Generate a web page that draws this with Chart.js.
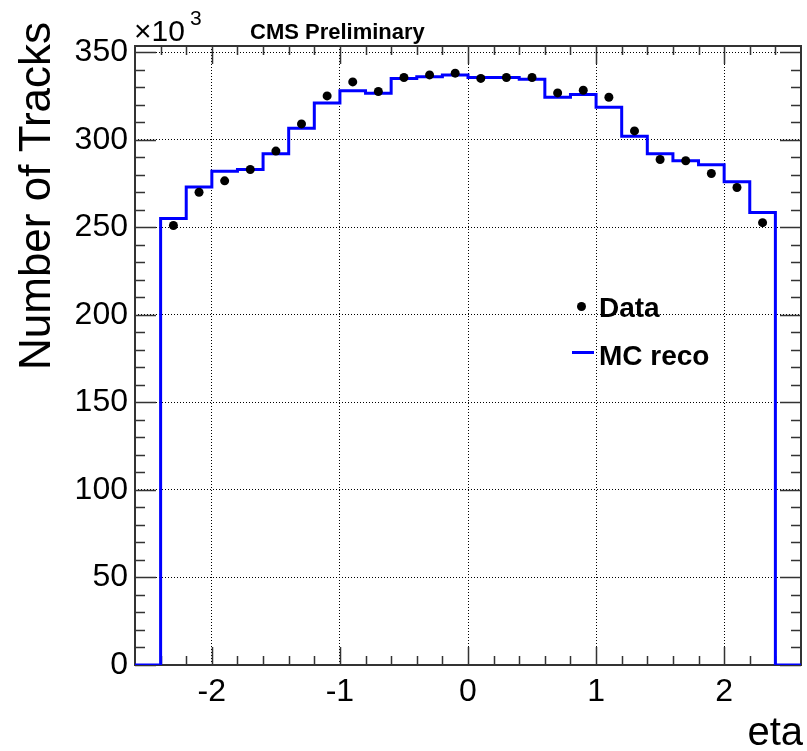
<!DOCTYPE html>
<html>
<head>
<meta charset="utf-8">
<script src="https://cdn.jsdelivr.net/npm/chart.js@4.4.0/dist/chart.umd.min.js"></script>
<style>
  html, body { margin: 0; padding: 0; background: #fff; }
  canvas { display: block; }
</style>
</head>
<body>
<canvas id="etaChart" width="807" height="751"></canvas>
<script>
// bin edges in eta (26 bins of 0.2)
const binEdges = [-2.6, -2.4, -2.2, -2.0, -1.8, -1.6, -1.4, -1.2, -1.0, -0.8, -0.6, -0.4, -0.2, 0.0,
                  0.2, 0.4, 0.6, 0.8, 1.0, 1.2, 1.4, 1.6, 1.8, 2.0, 2.2, 2.4, 2.6];
// MC reco content per bin (x10^3)
const mcReco = [0, 255, 273, 282, 283, 292, 306.5, 321, 328, 326.5, 335, 336, 337,
                335.5, 335.5, 334.5, 324.2, 325.8, 318.5, 302, 292, 288, 285.7, 276, 258.4, 0];
// data points at bin centres
const dataEta = [-2.3, -2.1, -1.9, -1.7, -1.5, -1.3, -1.1, -0.9, -0.7, -0.5, -0.3, -0.1,
                 0.1, 0.3, 0.5, 0.7, 0.9, 1.1, 1.3, 1.5, 1.7, 1.9, 2.1, 2.3];
const dataTracks = [251, 270, 276.5, 283, 293.5, 309, 325, 333, 327.5, 335.5, 337, 338,
                    335, 335.5, 335.5, 326.7, 328.2, 324.2, 305, 288.7, 288, 280.7, 272.7, 252.6];
// axis ticks
const xTickValues = [-2, -1, 0, 1, 2];
const yTickValues = [0, 50, 100, 150, 200, 250, 300, 350];

const FONT = "'Liberation Sans', Arial, Helvetica, sans-serif";

const mcPoints = binEdges.map((e, i) => ({ x: e, y: i < mcReco.length ? mcReco[i] : mcReco[mcReco.length - 1] }));
const dataPoints = dataEta.map((e, i) => ({ x: e, y: dataTracks[i] }));

// frame with ROOT-like inner ticks
const framePlugin = {
    id: 'frame',
    beforeDatasetsDraw(chart) {
        const { ctx, chartArea: a, scales: { x, y } } = chart;
        ctx.save();
        ctx.strokeStyle = '#333';
        ctx.lineWidth = 1.5;
        ctx.beginPath();
        // x ticks every 0.2, major at integers
        for (let k = -13; k <= 13; k++) {
            const v = k / 5;
            const px = Math.round(x.getPixelForValue(v)) + 0.5;
            if (px <= a.left + 1 || px >= a.right - 1) continue;
            const len = (k % 5 === 0) ? 18 : 9;
            ctx.moveTo(px, a.bottom); ctx.lineTo(px, a.bottom - len);
            ctx.moveTo(px, a.top); ctx.lineTo(px, a.top + len);
        }
        // y ticks every 10, major every 50
        for (let v = 0; v <= 350; v += 10) {
            const py = Math.round(y.getPixelForValue(v)) + 0.5;
            const len = (v % 50 === 0) ? 21 : 10;
            ctx.moveTo(a.left, py); ctx.lineTo(a.left + len, py);
            ctx.moveTo(a.right, py); ctx.lineTo(a.right - len, py);
        }
        ctx.stroke();
        ctx.lineWidth = 2;
        ctx.strokeRect(a.left, a.top, a.right - a.left, a.bottom - a.top);
        ctx.restore();
    },
    afterDraw(chart) {
        const { ctx } = chart;
        ctx.save();
        ctx.fillStyle = '#000';
        // y title
        ctx.save();
        ctx.translate(50, 22);
        ctx.rotate(-Math.PI / 2);
        ctx.font = `44px ${FONT}`;
        ctx.textAlign = 'right';
        ctx.textBaseline = 'alphabetic';
        ctx.fillText('Number of Tracks', 0, 0);
        ctx.restore();
        // x title
        ctx.font = `40px ${FONT}`;
        ctx.textAlign = 'right';
        ctx.fillText('eta', 803, 745);
        // exponent
        ctx.textAlign = 'left';
        ctx.font = `30px ${FONT}`;
        ctx.fillText('\u00d710', 134, 41);
        ctx.font = `21px ${FONT}`;
        ctx.fillText('3', 190, 25);
        // header
        ctx.font = `bold 22px ${FONT}`;
        ctx.fillText('CMS Preliminary', 250, 39);
        // legend
        const ds = chart.data.datasets;
        ctx.beginPath();
        ctx.arc(581.5, 306.5, 4.5, 0, Math.PI * 2);
        ctx.fillStyle = ds[0].backgroundColor;
        ctx.fill();
        ctx.strokeStyle = ds[1].borderColor;
        ctx.lineWidth = ds[1].borderWidth;
        ctx.beginPath();
        ctx.moveTo(572, 352.5); ctx.lineTo(594, 352.5);
        ctx.stroke();
        ctx.fillStyle = '#000';
        ctx.font = `bold 28px ${FONT}`;
        ctx.fillText(ds[0].label, 599, 317);
        ctx.fillText(ds[1].label, 599, 365);
        ctx.restore();
    }
};

new Chart(document.getElementById('etaChart'), {
    type: 'line',
    data: {
        datasets: [{
            label: 'Data',
            data: dataPoints,
            showLine: false,
            pointRadius: 4.5,
            pointBackgroundColor: '#000',
            pointBorderWidth: 0,
            backgroundColor: '#000',
            borderColor: '#000'
        }, {
            label: 'MC reco',
            data: mcPoints,
            stepped: 'before',
            borderColor: '#0000ff',
            borderWidth: 3,
            pointRadius: 0,
            fill: false
        }]
    },
    options: {
        responsive: false,
        animation: false,
        events: [],
        layout: { padding: { left: 0, right: 6, top: 46, bottom: 0 } },
        plugins: { legend: { display: false }, tooltip: { enabled: false } },
        scales: {
            x: {
                type: 'linear',
                min: -2.6,
                max: 2.6,
                afterBuildTicks: s => { s.ticks = xTickValues.map(v => ({ value: v })); },
                afterFit: s => { s.height = 86; },
                grid: { color: '#000', lineWidth: 1, drawTicks: false },
                border: { display: false, dash: [1, 2] },
                ticks: {
                    padding: 8,
                    color: '#000',
                    font: { family: FONT, size: 32 },
                    maxRotation: 0,
                    callback: v => String(v)
                }
            },
            y: {
                type: 'linear',
                min: 0,
                max: 353.5,
                afterBuildTicks: s => { s.ticks = yTickValues.map(v => ({ value: v })); },
                afterFit: s => { s.width = 135; },
                grid: { color: '#000', lineWidth: 1, drawTicks: false },
                border: { display: false, dash: [1, 2] },
                ticks: {
                    padding: 7,
                    color: '#000',
                    font: { family: FONT, size: 32 },
                    callback: v => String(v)
                }
            }
        }
    },
    plugins: [framePlugin]
});
</script>
</body>
</html>
